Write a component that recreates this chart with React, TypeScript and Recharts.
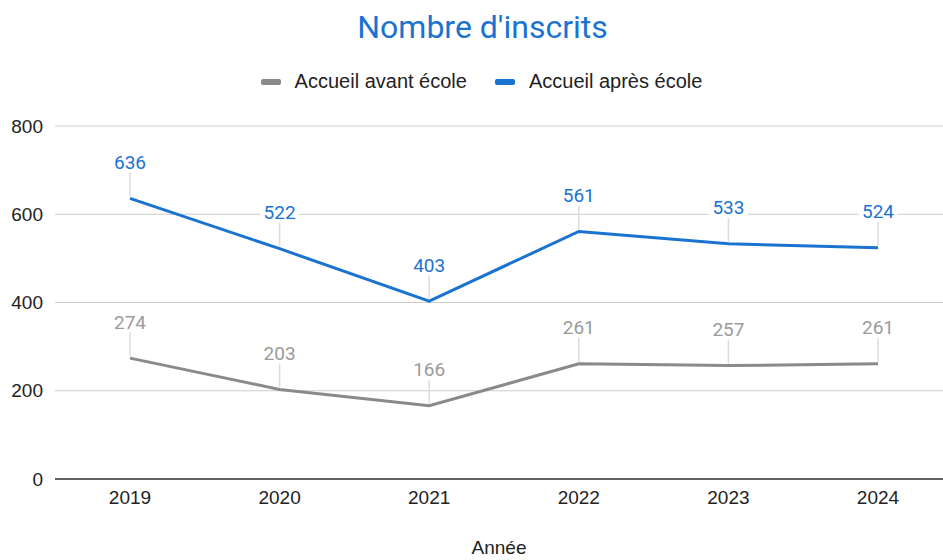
import { LineChart, Line, XAxis, YAxis, CartesianGrid, Legend, LabelList } from 'recharts';

const years = ['2019', '2020', '2021', '2022', '2023', '2024'];
const avantEcole = [274, 203, 166, 261, 257, 261];
const apresEcole = [636, 522, 403, 561, 533, 524];
const yTicks = [0, 200, 400, 600, 800];

const GREY = '#8a8a8a';
const GREY_LABEL = '#9a9a9a';
const BLUE = '#1a73d1';
const FONT = 'Arial, "Liberation Sans", sans-serif';

const data = years.map((year, i) => ({
  year,
  avant: avantEcole[i],
  apres: apresEcole[i],
}));

const makeLabel = (color: string) => (props: any) => {
  const { x, y, value } = props;
  const w = String(value).length * 11 + 6;
  return (
    <g>
      <line x1={x} y1={y - 2} x2={x} y2={y - 27} stroke="#dddddd" strokeWidth={1.5} />
      <rect x={x - w / 2} y={y - 47} width={w} height={21} fill="#ffffff" />
      <text
        x={x}
        y={y - 36}
        textAnchor="middle"
        dominantBaseline="central"
        fill={color}
        fontSize={19}
        fontFamily="Roboto, sans-serif"
      >
        {value}
      </text>
    </g>
  );
};

function LegendContent() {
  const items = [
    { name: 'Accueil avant école', color: GREY },
    { name: 'Accueil après école', color: BLUE },
  ];
  return (
    <div style={{ display: 'flex', justifyContent: 'center', gap: 28, paddingLeft: 20, fontFamily: FONT, fontSize: 20, color: '#222' }}>
      {items.map((it) => (
        <div key={it.name} style={{ display: 'flex', alignItems: 'center', gap: 14 }}>
          <div style={{ width: 20, height: 6, borderRadius: 2, background: it.color }} />
          <span>{it.name}</span>
        </div>
      ))}
    </div>
  );
}

export default function App() {
  return (
    <div style={{ position: 'absolute', left: 0, top: 0, width: 943, height: 560, background: '#fff' }}>
      <div
        style={{
          position: 'absolute',
          top: 8,
          left: 22,
          width: 921,
          textAlign: 'center',
          fontFamily: 'Roboto, sans-serif',
          fontSize: 32,
          color: BLUE,
          zIndex: 2,
        }}
      >
        Nombre d'inscrits
      </div>
      <LineChart width={943} height={560} data={data} margin={{ top: 126, right: 0, bottom: 0, left: 0 }}>
        <CartesianGrid vertical={false} stroke="#cccccc" />
        <XAxis
          dataKey="year"
          axisLine={{ stroke: '#333', strokeWidth: 1.5 }}
          tickLine={false}
          tickSize={0}
          tickMargin={12}
          padding={{ left: 75, right: 65 }}
          height={81}
          tick={{ fill: '#222', fontSize: 19, fontFamily: FONT }}
          label={{
            value: 'Année',
            position: 'insideBottom',
            offset: 6,
            fill: '#222',
            fontSize: 19,
            fontFamily: FONT,
          }}
        />
        <YAxis
          domain={[0, 800]}
          ticks={yTicks}
          axisLine={false}
          tickLine={false}
          tickSize={0}
          tickMargin={12}
          width={55}
          tick={{ fill: '#222', fontSize: 19, fontFamily: FONT }}
        />
        <Legend verticalAlign="middle" wrapperStyle={{ top: 70, left: 0, width: 943 }} content={<LegendContent />} />
        <Line
          type="linear"
          dataKey="avant"
          name="Accueil avant école"
          stroke={GREY}
          strokeWidth={3}
          dot={false}
          isAnimationActive={false}
        >
          <LabelList dataKey="avant" content={makeLabel(GREY_LABEL)} />
        </Line>
        <Line
          type="linear"
          dataKey="apres"
          name="Accueil après école"
          stroke={BLUE}
          strokeWidth={3}
          dot={false}
          isAnimationActive={false}
        >
          <LabelList dataKey="apres" content={makeLabel(BLUE)} />
        </Line>
      </LineChart>
    </div>
  );
}
